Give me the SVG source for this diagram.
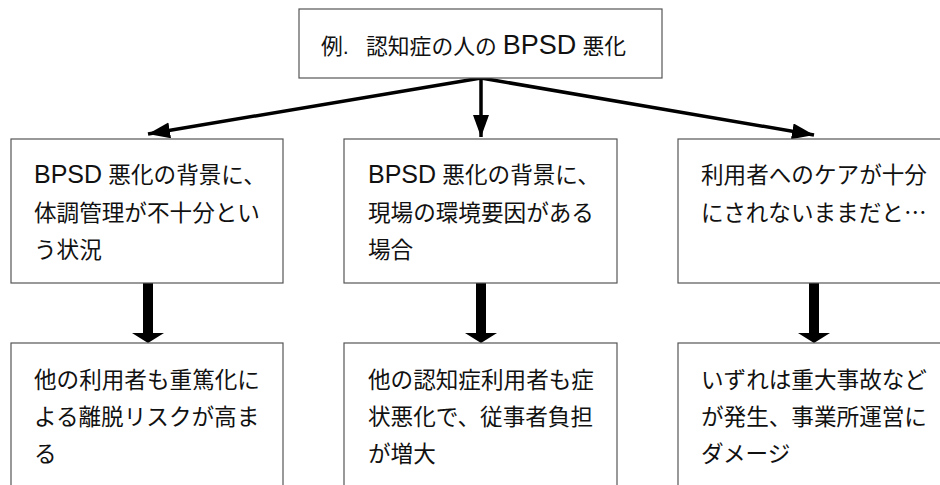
<svg xmlns="http://www.w3.org/2000/svg" width="940" height="485" viewBox="0 0 940 485">
<defs>
<style>
.box{fill:#fff;stroke:#555;stroke-width:1.2}
.t{font-family:"Liberation Sans","Noto Sans CJK JP",sans-serif;font-size:22.6px;fill:#111}
.lat{font-size:25px}
.cjk{font-family:"Noto Sans CJK JP",sans-serif}
.ln{stroke:#000;stroke-width:3.5;fill:none}
.thick{fill:#000}
</style>
<marker id="ah" markerUnits="userSpaceOnUse" markerWidth="24" markerHeight="18" refX="22" refY="8" orient="auto">
<path d="M0,0 L22,8 L0,16 Z" fill="#000"/>
</marker>
</defs>
<rect width="940" height="485" fill="#fff"/>
<g id="connectors">
<line class="ln" x1="481" y1="78" x2="148" y2="134" marker-end="url(#ah)"/>
<line class="ln" x1="481" y1="78" x2="481" y2="137" marker-end="url(#ah)"/>
<line class="ln" x1="481" y1="78" x2="814" y2="135" marker-end="url(#ah)"/>
<path class="thick" d="M143,283 H153 V333 H164 L148,343 L132,333 H143 Z"/>
<path class="thick" d="M476,283 H486 V333 H497 L481,343 L465,333 H476 Z"/>
<path class="thick" d="M809,283 H819 V333 H830 L814,343 L798,333 H809 Z"/>
</g>
<g id="top">
<rect class="box" x="299" y="9" width="363" height="69"/>
<text class="t" x="321" y="54" style="font-size:21.8px">例.<tspan x="366">認知症の人の </tspan><tspan style="font-size:27px">BPSD</tspan> 悪化</text>
</g>
<g id="n1">
<rect class="box" x="11" y="139" width="272" height="144"/>
<text class="t" x="34" y="183"><tspan class="lat">BPSD</tspan> 悪化の背景に、</text>
<text class="t" x="34" y="221">体調管理が不十分とい</text>
<text class="t" x="34" y="258">う状況</text>
</g>
<g id="n2">
<rect class="box" x="344" y="139" width="273" height="144"/>
<text class="t" x="368" y="183"><tspan class="lat">BPSD</tspan> 悪化の背景に、</text>
<text class="t" x="368" y="221">現場の環境要因がある</text>
<text class="t" x="368" y="258">場合</text>
</g>
<g id="n3">
<rect class="box" x="678" y="139" width="280" height="144"/>
<text class="t" x="701" y="183">利用者へのケアが十分</text>
<text class="t" x="701" y="221">にされないままだと<tspan class="cjk">…</tspan></text>
</g>
<g id="n4">
<rect class="box" x="11" y="343" width="272" height="160"/>
<text class="t" x="34" y="388">他の利用者も重篤化に</text>
<text class="t" x="34" y="425">よる離脱リスクが高ま</text>
<text class="t" x="34" y="462">る</text>
</g>
<g id="n5">
<rect class="box" x="344" y="343" width="273" height="160"/>
<text class="t" x="368" y="388">他の認知症利用者も症</text>
<text class="t" x="368" y="425">状悪化で、従事者負担</text>
<text class="t" x="368" y="462">が増大</text>
</g>
<g id="n6">
<rect class="box" x="678" y="343" width="280" height="160"/>
<text class="t" x="701" y="388">いずれは重大事故など</text>
<text class="t" x="701" y="425">が発生、事業所運営に</text>
<text class="t" x="701" y="462">ダメージ</text>
</g>
</svg>
